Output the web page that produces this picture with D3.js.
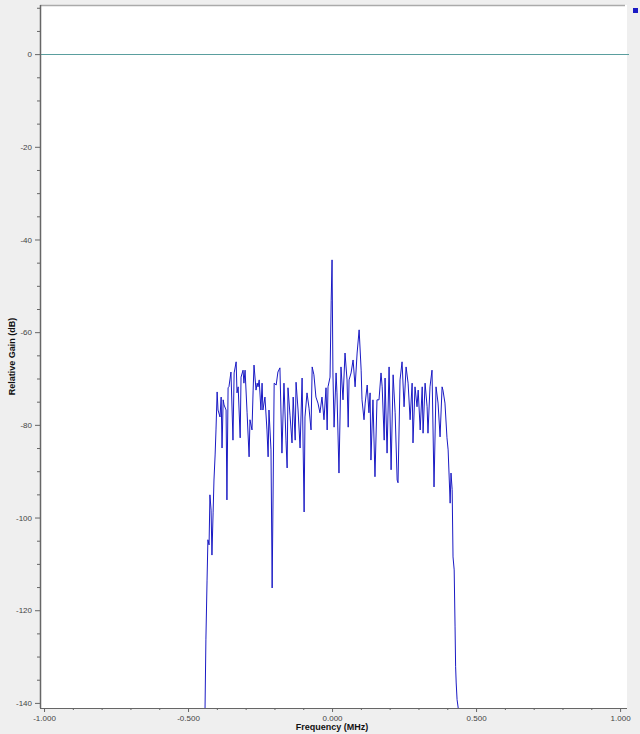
<!DOCTYPE html>
<html><head><meta charset="utf-8">
<script src="https://cdn.jsdelivr.net/npm/d3@7"></script>
<style>
html,body{margin:0;padding:0;background:#efefef;}
svg{display:block;}
text{font-family:"Liberation Sans",Arial,sans-serif;}
</style></head>
<body>
<script>
// Spectrum data
const freqMHz = [-0.441,-0.438,-0.434,-0.431,-0.427,-0.424,-0.420,-0.417,-0.413,-0.410,-0.406,-0.403,-0.399,-0.396,-0.389,-0.385,-0.382,-0.378,-0.375,-0.368,-0.365,-0.361,-0.358,-0.351,-0.344,-0.340,-0.333,-0.330,-0.326,-0.319,-0.316,-0.309,-0.306,-0.302,-0.295,-0.288,-0.285,-0.278,-0.274,-0.271,-0.264,-0.260,-0.257,-0.253,-0.247,-0.243,-0.240,-0.233,-0.226,-0.222,-0.219,-0.212,-0.208,-0.201,-0.194,-0.188,-0.181,-0.174,-0.167,-0.160,-0.156,-0.153,-0.146,-0.139,-0.135,-0.128,-0.125,-0.118,-0.111,-0.104,-0.097,-0.094,-0.087,-0.080,-0.073,-0.069,-0.063,-0.056,-0.049,-0.042,-0.035,-0.028,-0.021,-0.017,-0.014,-0.007,-0.003,0.000,0.003,0.007,0.014,0.017,0.024,0.031,0.038,0.045,0.052,0.056,0.059,0.066,0.073,0.080,0.087,0.094,0.101,0.104,0.111,0.115,0.122,0.128,0.132,0.135,0.142,0.149,0.156,0.163,0.170,0.174,0.181,0.184,0.191,0.198,0.205,0.212,0.219,0.226,0.229,0.236,0.243,0.250,0.257,0.264,0.271,0.278,0.281,0.288,0.295,0.299,0.306,0.313,0.316,0.323,0.330,0.333,0.340,0.347,0.354,0.361,0.368,0.375,0.382,0.385,0.392,0.399,0.403,0.410,0.413,0.417,0.420,0.424,0.427,0.429,0.431,0.434,0.438];
const gainDb = [-141.1,-126.4,-113.5,-104.8,-105.9,-95.1,-98.4,-108.1,-99.0,-91.9,-86.5,-81.1,-72.9,-76.8,-78.3,-74.0,-85.0,-74.6,-75.7,-76.8,-96.2,-72.0,-71.8,-68.6,-83.3,-68.8,-66.4,-73.1,-71.8,-82.8,-69.7,-68.2,-71.0,-68.2,-77.4,-86.9,-78.9,-81.1,-72.5,-67.1,-72.5,-71.0,-71.8,-70.3,-76.8,-71.0,-76.8,-74.0,-81.1,-86.9,-76.8,-85.4,-115.2,-71.0,-71.4,-68.6,-67.7,-86.1,-71.0,-83.3,-89.3,-72.0,-77.9,-83.9,-74.0,-83.3,-70.8,-76.8,-85.0,-69.9,-98.8,-78.3,-73.1,-76.4,-81.1,-67.5,-69.2,-74.0,-75.3,-77.4,-74.0,-78.9,-72.0,-81.1,-71.8,-69.7,-53.1,-44.4,-68.8,-80.5,-68.8,-73.1,-90.4,-67.5,-74.6,-64.5,-70.3,-80.5,-70.3,-68.8,-66.0,-71.8,-64.5,-59.5,-68.2,-74.6,-78.9,-75.3,-71.4,-77.4,-73.1,-87.6,-74.6,-91.2,-74.6,-74.6,-68.8,-71.8,-83.3,-69.9,-86.1,-67.5,-89.7,-69.2,-77.4,-91.9,-92.5,-70.3,-66.4,-76.1,-67.5,-71.0,-78.9,-71.0,-83.9,-71.8,-76.1,-72.5,-81.1,-71.8,-81.8,-71.0,-76.1,-81.8,-71.8,-68.2,-93.4,-71.8,-75.3,-82.6,-71.8,-72.5,-75.3,-82.8,-85.4,-96.9,-90.4,-94.0,-108.5,-111.3,-123.6,-132.2,-135.7,-139.3,-141.1];
const referenceLevelDb = [0];
const xMajorTicks = [-1.0, -0.5, 0.0, 0.5, 1.0];
const xMinorTicks = [-0.9,-0.8,-0.7,-0.6,-0.4,-0.3,-0.2,-0.1,0.1,0.2,0.3,0.4,0.6,0.7,0.8,0.9];
const yMajorTicks = [0, -20, -40, -60, -80, -100, -120, -140];
const yMinorTicks = [10, 5, -5, -10, -15, -25, -30, -35, -45, -50, -55, -65, -70, -75, -85, -90, -95, -105, -110, -115, -125, -130, -135];
const xDomain = [-1.014, 1.024];
const yDomain = [-141.1, 10.6];

const W = 640, H = 734;
const L = 40, R = 627, T = 5, B = 708;

const svg = d3.select("body").append("svg").attr("width", W).attr("height", H);
svg.append("rect").attr("width", W).attr("height", H).attr("fill", "#efefef");
svg.append("rect").attr("x", L).attr("y", T).attr("width", R - L).attr("height", B - T).attr("fill", "#ffffff");

const x = d3.scaleLinear().domain(xDomain).range([L, R]);
const y = d3.scaleLinear().domain(yDomain).range([B, T]);

// top border
svg.append("line").attr("x1", L).attr("x2", R - 2).attr("y1", T + 0.5).attr("y2", T + 0.5)
  .attr("stroke", "#aaaaaa").attr("stroke-width", 1.5);

// reference line at 0 dB
svg.selectAll(".ref").data(referenceLevelDb).enter().append("line")
  .attr("x1", L).attr("x2", R + 2)
  .attr("y1", d => Math.round(y(d)) + 0.5).attr("y2", d => Math.round(y(d)) + 0.5)
  .attr("stroke", "#5a9e9e").attr("stroke-width", 1);

// spectrum line
const pts = freqMHz.map((f, i) => [f, gainDb[i]]);
const clipId = "plotclip";
svg.append("clipPath").attr("id", clipId).append("rect")
  .attr("x", L).attr("y", T).attr("width", R - L).attr("height", B - T);
svg.append("path").datum(pts)
  .attr("clip-path", `url(#${clipId})`)
  .attr("fill", "none").attr("stroke", "#1a1ac4").attr("stroke-width", 1)
  .attr("stroke-linejoin", "round")
  .attr("d", d3.line().x(d => x(d[0])).y(d => y(d[1])));

// Y axis
const yAxis = svg.append("g").attr("transform", `translate(${L},0)`)
  .call(d3.axisLeft(y).tickValues(yMajorTicks).tickSize(5).tickPadding(3)
    .tickFormat(d3.format("d")));
yAxis.select(".domain").attr("stroke", "#666").attr("stroke-width", 1.5).attr("d", `M0.5,${T}V${B}`);
yAxis.selectAll(".tick line").attr("stroke", "#666");
yAxis.selectAll(".tick text").attr("font-size", 8).attr("fill", "#444")
  .attr("font-family", "'Liberation Sans', Arial, sans-serif").text(d => d === 0 ? "0" : d3.format("d")(d).replace("−","-"));
const yMinor = svg.append("g").attr("transform", `translate(${L},0)`)
  .call(d3.axisLeft(y).tickValues(yMinorTicks).tickSize(3).tickFormat(""));
yMinor.select(".domain").remove();
yMinor.selectAll(".tick line").attr("stroke", "#666");

// X axis
const xAxis = svg.append("g").attr("transform", `translate(0,${B})`)
  .call(d3.axisBottom(x).tickValues(xMajorTicks).tickSize(4).tickPadding(3)
    .tickFormat(d => d3.format(".3f")(d).replace("−","-")));
xAxis.select(".domain").attr("stroke", "#666").attr("stroke-width", 1).attr("d", `M${L},0.5H${R}`);
xAxis.selectAll(".tick line").attr("stroke", "#666");
xAxis.selectAll(".tick text").attr("font-size", 8).attr("fill", "#444")
  .attr("font-family", "'Liberation Sans', Arial, sans-serif");
const xMinor = svg.append("g").attr("transform", `translate(0,${B})`)
  .call(d3.axisBottom(x).tickValues(xMinorTicks).tickSize(2).tickFormat(""));
xMinor.select(".domain").remove();
xMinor.selectAll(".tick line").attr("stroke", "#666");

// axis titles
svg.append("text").attr("x", (x(-1) + x(1)) / 2).attr("y", 730)
  .attr("text-anchor", "middle").attr("font-size", 9).attr("font-weight", "bold").attr("fill", "#111")
  .text("Frequency (MHz)");
svg.append("text").attr("transform", `translate(15,${(T + B) / 2}) rotate(-90)`)
  .attr("text-anchor", "middle").attr("font-size", 9).attr("font-weight", "bold").attr("fill", "#111")
  .text("Relative Gain (dB)");

// legend marker
svg.append("rect").attr("x", 633).attr("y", 8).attr("width", 5).attr("height", 5).attr("fill", "#1a1ac4");
</script>
</body></html>
